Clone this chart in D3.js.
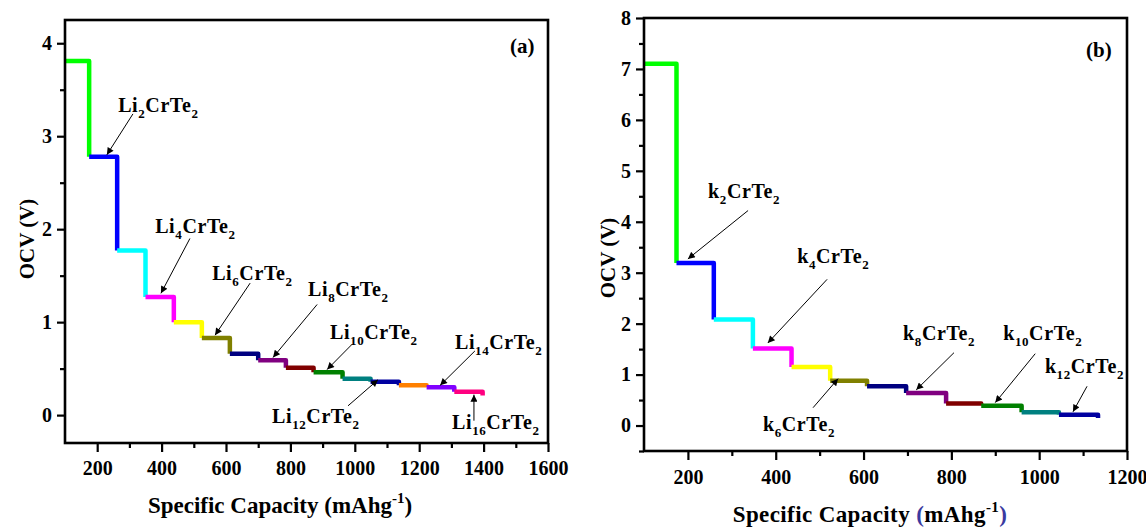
<!DOCTYPE html>
<html><head><meta charset="utf-8">
<script src="https://cdn.jsdelivr.net/npm/d3@7"></script>
<style>
body{margin:0;background:#fff;}
svg{display:block;font-family:"Liberation Serif","Times New Roman",serif;font-weight:bold;}
</style></head><body>
<svg id="chart" width="1146" height="527"></svg>
<script>
// ---- data ----
const stepColors = ["#00FF00","#0000FF","#00FFFF","#FF00FF","#FFFF00","#808000","#000080","#800080","#800000","#008000","#008080","#0000A0","#FF8000","#8000FF","#FF0080"];

// Panel (a): Li intercalation — step boundaries (mAh/g) and OCV levels (V)
const liCapacity = [100, 175, 262, 350, 438, 525, 612, 700, 786, 872, 962, 1049, 1137, 1223, 1309, 1397];
const liOCV      = [3.81, 2.78, 1.77, 1.27, 1.00, 0.83, 0.66, 0.59, 0.51, 0.46, 0.39, 0.36, 0.32, 0.30, 0.25, 0.21];

// Panel (b): K intercalation
const kCapacity = [100, 174, 259, 348, 436, 524, 608, 697, 788, 868, 960, 1045, 1134];
const kOCV      = [7.10, 3.19, 2.08, 1.51, 1.15, 0.88, 0.77, 0.64, 0.43, 0.39, 0.26, 0.21, 0.15];

const xTicksA = [200, 400, 600, 800, 1000, 1200, 1400, 1600];
const yTicksA = [0, 1, 2, 3, 4];
const xTicksB = [200, 400, 600, 800, 1000, 1200];
const yTicksB = [0, 1, 2, 3, 4, 5, 6, 7, 8];

// annotations: subscript index, label anchor (x,y in data units), arrow tail, arrow head
const liLabelSub = ["2", "4", "6", "8", "10", "12", "14", "16"];
const liLabelPos = [[265, 3.26], [380, 1.96], [557, 1.45], [855, 1.28], [923, 0.815], [743, -0.08], [1311, 0.71], [1302, -0.15]];
const liArrowFrom = [[311, 3.24], [488, 1.90], [675, 1.42], [883, 1.19], [991, 0.76], [979, 0.10], [1373, 0.69], [1370, -0.06]];
const liArrowTo   = [[230, 2.80], [398, 1.31], [566, 0.86], [746, 0.62], [914, 0.49], [1072, 0.38], [1265, 0.32], [1370, 0.22]];

const kLabelSub = ["2", "4", "6", "8", "10", "12"];
const kLabelPos = [[246, 4.46], [449, 3.20], [371, -0.10], [690, 1.67], [918, 1.67], [1013, 1.04]];
const kArrowFrom = [[337, 4.22], [517, 2.87], [485, 0.35], [806, 1.43], [991, 1.41], [1109, 0.77]];
const kArrowTo   = [[200, 3.27], [382, 1.62], [542, 0.92], [720, 0.70], [900, 0.45], [1077, 0.27]];

// ---- drawing ----
const svg = d3.select("#chart");
svg.append("rect").attr("width", 1146).attr("height", 527).attr("fill", "#fff");

svg.append("defs").append("marker")
  .attr("id", "arrow").attr("viewBox", "0 0 10 10")
  .attr("refX", 10).attr("refY", 5)
  .attr("markerUnits", "userSpaceOnUse")
  .attr("markerWidth", 9).attr("markerHeight", 7)
  .attr("orient", "auto")
  .append("path").attr("d", "M0,0 L10,5 L0,10 Z").attr("fill", "#000");

function range(a, b, s) { const r = []; for (let v = a; v <= b + 1e-9; v += s) r.push(+v.toFixed(4)); return r; }

function drawPanel(cfg) {
  const x = d3.scaleLinear().domain(cfg.xDomain).range([cfg.left, cfg.right]);
  const y = d3.scaleLinear().domain(cfg.yDomain).range([cfg.bottom, cfg.top]);
  const g = svg.append("g");

  // steps
  for (let i = 0; i < cfg.cap.length - 1; i++) {
    const p = d3.path();
    p.moveTo(x(cfg.cap[i]), y(cfg.ocv[i]));
    p.lineTo(x(cfg.cap[i + 1]), y(cfg.ocv[i]));
    p.lineTo(x(cfg.cap[i + 1]), y(cfg.ocv[i + 1]));
    g.append("path").attr("d", p.toString())
      .attr("fill", "none").attr("stroke", stepColors[i])
      .attr("stroke-width", 4.5).attr("stroke-linejoin", "round");
  }

  // minor ticks
  const minorX = range(cfg.xDomain[0], cfg.xDomain[1], 100).filter(v => !cfg.xTicks.includes(v) && v > cfg.xDomain[0]);
  const minorY = range(Math.ceil(cfg.yDomain[0] * 2) / 2, cfg.yDomain[1], 0.5).filter(v => !cfg.yTicks.includes(v));
  const mx = g.append("g").attr("transform", `translate(0,${cfg.bottom})`)
    .call(d3.axisBottom(x).tickValues(minorX).tickSize(5).tickSizeOuter(0).tickFormat(""));
  const my = g.append("g").attr("transform", `translate(${cfg.left},0)`)
    .call(d3.axisLeft(y).tickValues(minorY).tickSize(5).tickSizeOuter(0).tickFormat(""));

  const ax = g.append("g").attr("transform", `translate(0,${cfg.bottom})`)
    .call(d3.axisBottom(x).tickValues(cfg.xTicks).tickSize(9).tickSizeOuter(0).tickPadding(cfg.xPad).tickFormat(d3.format("d")));
  const ay = g.append("g").attr("transform", `translate(${cfg.left},0)`)
    .call(d3.axisLeft(y).tickValues(cfg.yTicks).tickSize(8).tickSizeOuter(0).tickPadding(cfg.yPad).tickFormat(d3.format("d")));
  [mx, my, ax, ay].forEach(a => {
    a.select(".domain").remove();
    a.selectAll("line").attr("stroke", "#000").attr("stroke-width", 2.2);
    a.selectAll("text").attr("font-family", "Liberation Serif").attr("font-weight", "bold")
      .attr("font-size", 20).attr("fill", "#000");
  });

  // frame
  g.append("rect").attr("x", cfg.left).attr("y", cfg.top)
    .attr("width", cfg.right - cfg.left).attr("height", cfg.bottom - cfg.top)
    .attr("fill", "none").attr("stroke", "#000").attr("stroke-width", 2.6);

  // annotations
  cfg.sub.forEach((s, i) => {
    g.append("line")
      .attr("x1", x(cfg.from[i][0])).attr("y1", y(cfg.from[i][1]))
      .attr("x2", x(cfg.to[i][0])).attr("y2", y(cfg.to[i][1]))
      .attr("stroke", "#000").attr("stroke-width", 1).attr("marker-end", "url(#arrow)");
    const t = g.append("text").attr("x", x(cfg.pos[i][0])).attr("y", y(cfg.pos[i][1]))
      .attr("font-size", 20).attr("fill", "#000").attr("letter-spacing", 0.6);
    t.append("tspan").text(cfg.prefix);
    t.append("tspan").attr("font-size", 13).attr("dy", 6).text(s);
    t.append("tspan").attr("dy", -6).text("CrTe");
    t.append("tspan").attr("font-size", 13).attr("dy", 6).text("2");
  });

  // panel label
  g.append("text").attr("x", cfg.tagX).attr("y", cfg.tagY).attr("font-size", 21).attr("fill", "#000").text(cfg.tag);

  // axis titles
  const xt = g.append("text").attr("x", cfg.xtX).attr("y", cfg.xtY).attr("text-anchor", "middle")
    .attr("font-size", 23).attr("fill", "#000").attr("letter-spacing", cfg.xtSpacing);
  xt.append("tspan").text("Specific Capacity ");
  xt.append("tspan").attr("fill", cfg.parenColor).text("(");
  xt.append("tspan").text("mAhg");
  xt.append("tspan").attr("font-size", 15).attr("dy", -10).text("-1");
  xt.append("tspan").attr("dy", 10).attr("fill", cfg.parenColor).text(")");

  g.append("text").attr("transform", `translate(${cfg.ytX},${cfg.ytY}) rotate(-90)`)
    .attr("text-anchor", "middle").attr("font-size", 21).attr("fill", "#000").text("OCV (V)");
}

drawPanel({
  left: 65, right: 548, top: 20, bottom: 443,
  xDomain: [100, 1600], yDomain: [-0.3, 4.25],
  xTicks: xTicksA, yTicks: yTicksA, xPad: 9, yPad: 5,
  cap: liCapacity, ocv: liOCV, prefix: "Li",
  sub: liLabelSub, pos: liLabelPos, from: liArrowFrom, to: liArrowTo,
  tag: "(a)", tagX: 510, tagY: 53,
  xtX: 280, xtY: 513, xtSpacing: 0, ytX: 34, ytY: 239, parenColor: "#000"
});

drawPanel({
  left: 644, right: 1127, top: 18, bottom: 451,
  xDomain: [100, 1200], yDomain: [-0.5, 8],
  xTicks: xTicksB, yTicks: yTicksB, xPad: 10, yPad: 5,
  cap: kCapacity, ocv: kOCV, prefix: "k",
  sub: kLabelSub, pos: kLabelPos, from: kArrowFrom, to: kArrowTo,
  tag: "(b)", tagX: 1086, tagY: 57,
  xtX: 870, xtY: 522, xtSpacing: 0.4, ytX: 615, ytY: 258, parenColor: "#3a3aa0"
});
</script>
</body></html>
